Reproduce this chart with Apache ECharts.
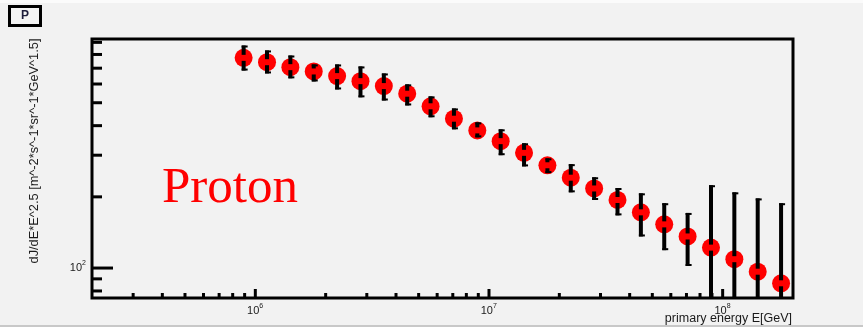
<!DOCTYPE html>
<html>
<head>
<meta charset="utf-8">
<script src="https://cdn.jsdelivr.net/npm/echarts@6/dist/echarts.min.js"></script>
<style>
  html, body { margin: 0; padding: 0; background: #f2f2f2; }
  #chart { width: 863px; height: 327px; }
</style>
</head>
<body>
<div id="chart"></div>
<script>
// bin centres, log10(E / GeV)
const logEnergy = [5.95, 6.05, 6.15, 6.25, 6.35, 6.45, 6.55, 6.65, 6.75, 6.85, 6.95, 7.05,
                   7.15, 7.25, 7.35, 7.45, 7.55, 7.65, 7.75, 7.85, 7.95, 8.05, 8.15, 8.25];
// dJ/dE * E^2.5
const flux     = [774, 742, 707, 678, 648, 617, 588, 546, 483, 428, 382, 344,
                  307, 272, 241, 217, 194, 172, 153, 136, 122, 109, 96.5, 86.2];
const fluxHigh = [873, 832, 792, 726, 726, 712, 665, 598, 532, 473, 413, 386,
                  337, 291, 275, 242, 218, 207, 188, 171, 224, 209, 197, 188];
const fluxLow  = [684, 665, 634, 615, 569, 527, 511, 487, 434, 386, 357, 300,
                  269, 252, 209, 194, 167, 136, 119, 102, 20, 20, 20, 20];

// axis ticks
const xMajorTicks = [1e6, 1e7, 1e8];
const xTickLabels = ['6', '7', '8'];
const xMinorTicks = [3e5, 4e5, 5e5, 6e5, 7e5, 8e5, 9e5,
                     2e6, 3e6, 4e6, 5e6, 6e6, 7e6, 8e6, 9e6,
                     2e7, 3e7, 4e7, 5e7, 6e7, 7e7, 8e7, 9e7];
const yMajorTicks = [100];
const yTickLabels = ['2'];
const yMinorTicks = [80, 90, 200, 300, 400, 500, 600, 700, 800, 900];

const X_MIN = 2e5, X_MAX = 2e8;
const Y_MIN = 74.7, Y_MAX = 930;

const chart = echarts.init(document.getElementById('chart'));

const points = logEnergy.map((e, i) => [Math.pow(10, e), flux[i]]);
const errors = logEnergy.map((e, i) => [Math.pow(10, e), flux[i], fluxHigh[i], fluxLow[i]]);

const xTickData = xMajorTicks.map(v => [v, Y_MIN, 1]).concat(xMinorTicks.map(v => [v, Y_MIN, 0]));
const yTickData = yMajorTicks.map(v => [X_MIN, v, 1]).concat(yMinorTicks.map(v => [X_MIN, v, 0]));

const labelFont = 'Liberation Sans, Arial, sans-serif';

function renderErrorBar(params, api) {
  const x = api.value(0);
  const c = api.coord([x, api.value(1)]);
  const hi = api.coord([x, api.value(2)]);
  const lo = api.coord([x, api.value(3)]);
  const cs = params.coordSys;
  const bottom = cs.y + cs.height;
  const loY = Math.min(lo[1], bottom);
  const gap = 3;
  const st = { stroke: '#000', lineWidth: 4 };
  const capSt = { stroke: '#000', lineWidth: 2 };
  const children = [];
  if (c[1] - gap > hi[1]) {
    children.push({ type: 'line', shape: { x1: c[0], y1: hi[1], x2: c[0], y2: c[1] - gap }, style: st });
    children.push({ type: 'line', shape: { x1: c[0] - 2, y1: hi[1] + 1, x2: c[0] + 4, y2: hi[1] + 1 }, style: capSt });
  }
  if (c[1] + gap < loY) {
    children.push({ type: 'line', shape: { x1: c[0], y1: c[1] + gap, x2: c[0], y2: loY }, style: st });
    if (lo[1] < bottom) {
      children.push({ type: 'line', shape: { x1: c[0] - 2, y1: loY - 1, x2: c[0] + 4, y2: loY - 1 }, style: capSt });
    }
  }
  return { type: 'group', children: children };
}

function renderXTick(params, api) {
  const p = api.coord([api.value(0), api.value(1)]);
  const bottom = params.coordSys.y + params.coordSys.height;
  const len = api.value(2) ? 9 : 5;
  return { type: 'line', shape: { x1: p[0], y1: bottom, x2: p[0], y2: bottom - len },
           style: { stroke: '#000', lineWidth: 3 } };
}

function renderYTick(params, api) {
  const p = api.coord([api.value(0), api.value(1)]);
  const left = params.coordSys.x;
  const len = api.value(2) ? 21 : 10;
  return { type: 'line', shape: { x1: left, y1: p[1], x2: left + len, y2: p[1] },
           style: { stroke: '#000', lineWidth: 3 } };
}

function renderXLabel(params, api) {
  const p = api.coord([api.value(0), api.value(1)]);
  const y = params.coordSys.y + params.coordSys.height + 13;
  return {
    type: 'group',
    children: [
      { type: 'text', x: p[0] + 4, y: y,
        style: { text: '10', fill: '#1a1a1a', fontSize: 11, fontFamily: labelFont, align: 'right', verticalAlign: 'middle' } },
      { type: 'text', x: p[0] + 4, y: y - 5,
        style: { text: xTickLabels[params.dataIndex], fill: '#1a1a1a', fontSize: 7, fontFamily: labelFont, align: 'left', verticalAlign: 'middle' } }
    ]
  };
}

function renderYLabel(params, api) {
  const p = api.coord([api.value(0), api.value(1)]);
  const x = params.coordSys.x - 10;
  return {
    type: 'group',
    children: [
      { type: 'text', x: x, y: p[1],
        style: { text: '10', fill: '#1a1a1a', fontSize: 11, fontFamily: labelFont, align: 'right', verticalAlign: 'middle' } },
      { type: 'text', x: x, y: p[1] - 5,
        style: { text: yTickLabels[params.dataIndex], fill: '#1a1a1a', fontSize: 7, fontFamily: labelFont, align: 'left', verticalAlign: 'middle' } }
    ]
  };
}

const option = {
  animation: false,
  backgroundColor: '#f2f2f2',
  grid: {
    left: 92, top: 39, width: 701, height: 259,
    show: true, borderColor: '#000', borderWidth: 3, backgroundColor: 'transparent'
  },
  xAxis: {
    type: 'log', min: X_MIN, max: X_MAX,
    axisLine: { show: false }, axisTick: { show: false },
    axisLabel: { show: false }, splitLine: { show: false }
  },
  yAxis: {
    type: 'log', min: Y_MIN, max: Y_MAX,
    axisLine: { show: false }, axisTick: { show: false },
    axisLabel: { show: false }, splitLine: { show: false }
  },
  series: [
    {
      type: 'scatter', data: points, symbol: 'circle', symbolSize: 18,
      itemStyle: { color: '#ff0000', opacity: 1 }, z: 2
    },
    { type: 'custom', data: errors, renderItem: renderErrorBar, clip: true, z: 3, silent: true },
    { type: 'custom', data: xTickData, renderItem: renderXTick, z: 4, silent: true },
    { type: 'custom', data: yTickData, renderItem: renderYTick, z: 4, silent: true },
    { type: 'custom', data: xMajorTicks.map(v => [v, Y_MIN]), renderItem: renderXLabel, clip: false, z: 4, silent: true },
    { type: 'custom', data: yMajorTicks.map(v => [X_MIN, v]), renderItem: renderYLabel, clip: false, z: 4, silent: true }
  ],
  graphic: [
    { type: 'rect', left: 0, top: 0, shape: { width: 863, height: 3 }, style: { fill: '#fbfbfb' }, silent: true },
    { type: 'rect', left: 0, top: 325, shape: { width: 863, height: 2 }, style: { fill: '#c8c8c8' }, silent: true },
    {
      type: 'rect', x: 9.5, y: 6.5, shape: { width: 31, height: 19 },
      style: { fill: '#f4f4f4', stroke: '#000', lineWidth: 3 }, silent: true
    },
    {
      type: 'text', x: 25, y: 16,
      style: { text: 'P', fill: '#1c1c3a', fontSize: 12, fontWeight: 'bold', fontFamily: labelFont, align: 'center', verticalAlign: 'middle' }
    },
    {
      type: 'text', x: 34, y: 151, rotation: Math.PI / 2,
      style: { text: 'dJ/dE*E^2.5 [m^-2*s^-1*sr^-1*GeV^1.5]', fill: '#1a1a1a', fontSize: 12.8, fontFamily: labelFont, align: 'center', verticalAlign: 'middle' }
    },
    {
      type: 'text', x: 792, y: 319,
      style: { text: 'primary energy E[GeV]', fill: '#1a1a1a', fontSize: 12.5, fontFamily: labelFont, align: 'right', verticalAlign: 'middle' }
    },
    {
      type: 'text', x: 162, y: 189,
      style: { text: 'Proton', fill: '#ff0000', fontSize: 51, fontFamily: 'Liberation Serif, DejaVu Serif, serif', align: 'left', verticalAlign: 'middle' }
    }
  ]
};

chart.setOption(option);
</script>
</body>
</html>
